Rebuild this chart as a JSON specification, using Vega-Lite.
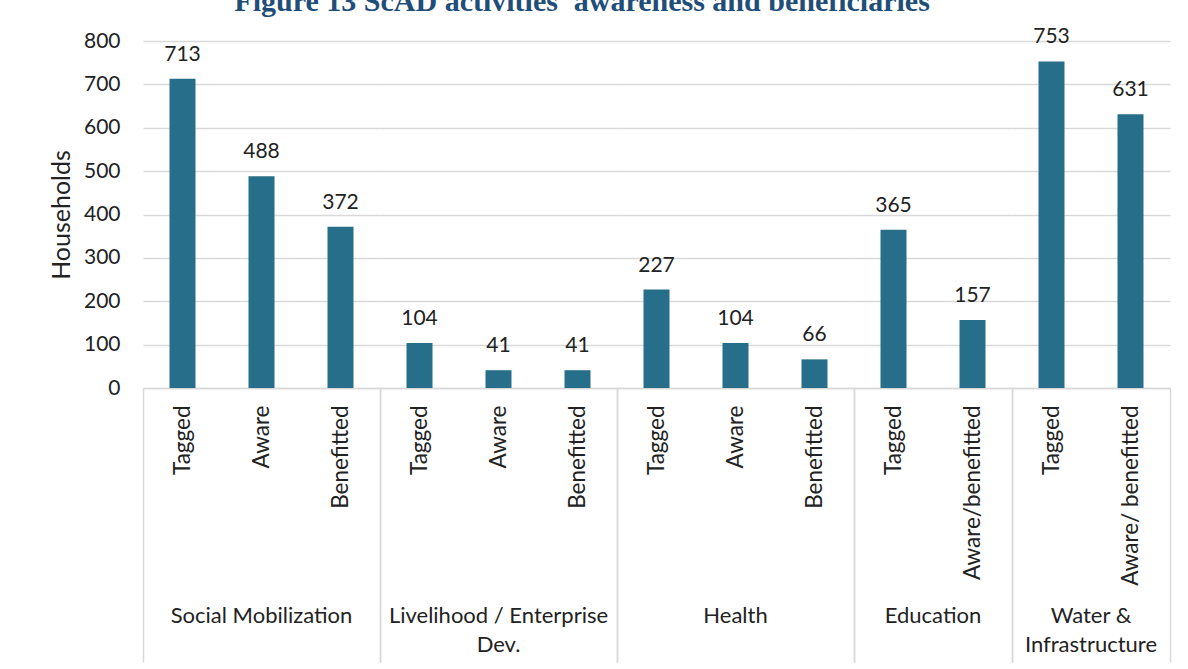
{
  "$schema": "https://vega.github.io/schema/vega-lite/v6.json",
  "padding": {"left": 49, "top": -13, "right": 10, "bottom": 0},
  "title": {
    "text": "Figure 13 ScAD activities' awareness and beneficiaries",
    "font": "Liberation Serif",
    "fontSize": 30,
    "fontWeight": "bold",
    "color": "#1f4e79",
    "anchor": "middle",
    "dx": -28,
    "offset": 9
  },
  "config": {
    "view": {"stroke": null},
    "font": "Lato"
  },
  "data": {
    "values": [
      {"group": "Social Mobilization", "status": "Tagged", "households": 713},
      {"group": "Social Mobilization", "status": "Aware", "households": 488},
      {"group": "Social Mobilization", "status": "Benefitted", "households": 372},
      {"group": "Livelihood / Enterprise Dev.", "status": "Tagged", "households": 104},
      {"group": "Livelihood / Enterprise Dev.", "status": "Aware", "households": 41},
      {"group": "Livelihood / Enterprise Dev.", "status": "Benefitted", "households": 41},
      {"group": "Health", "status": "Tagged", "households": 227},
      {"group": "Health", "status": "Aware", "households": 104},
      {"group": "Health", "status": "Benefitted", "households": 66},
      {"group": "Education", "status": "Tagged", "households": 365},
      {"group": "Education", "status": "Aware/benefitted", "households": 157},
      {"group": "Water & Infrastructure", "status": "Tagged", "households": 753},
      {"group": "Water & Infrastructure", "status": "Aware/ benefitted", "households": 631}
    ]
  },
  "facet": {
    "column": {
      "field": "group",
      "type": "nominal",
      "sort": ["Social Mobilization", "Livelihood / Enterprise Dev.", "Health", "Education", "Water & Infrastructure"],
      "header": {
        "title": null,
        "labelOrient": "bottom",
        "labelFont": "Lato",
        "labelFontSize": 22,
        "labelColor": "#222222",
        "labelBaseline": "top",
        "labelPadding": -57,
        "labelLineHeight": 29,
        "labelLimit": 300,
        "labelExpr": "indexof(datum.label, 'Livelihood') == 0 ? ['Livelihood / Enterprise', 'Dev.'] : indexof(datum.label, 'Water') == 0 ? ['Water &', 'Infrastructure'] : datum.label"
      }
    }
  },
  "spacing": -12,
  "resolve": {"scale": {"x": "independent"}},
  "spec": {
    "width": {"step": 79},
    "height": 347,
    "encoding": {
      "x": {
        "field": "status",
        "type": "nominal",
        "sort": null,
        "scale": {"paddingInner": 0, "paddingOuter": 0},
        "axis": {
          "title": null,
          "labelAngle": -90,
          "labelFont": "Lato",
          "labelFontSize": 22.5,
          "labelColor": "#222222",
          "labelLimit": 400,
          "tickBand": "extent",
          "tickSize": 274,
          "tickWidth": 1.5,
          "tickColor": "#d9d9d9",
          "tickOpacity": {"condition": {"test": "datum.value != 'Tagged' && datum.value != 'Aware'", "value": 1}, "value": 0},
          "labelPadding": -257,
          "domainColor": "#d9d9d9",
          "domainWidth": 1.5
        }
      },
      "y": {
        "field": "households",
        "type": "quantitative",
        "scale": {"domain": [0, 800]},
        "axis": {
          "title": "Households",
          "titleFont": "Lato",
          "titleFontSize": 25,
          "titleFontWeight": "normal",
          "titleColor": "#222222",
          "titlePadding": 9,
          "values": [0, 100, 200, 300, 400, 500, 600, 700, 800],
          "labelFont": "Lato",
          "labelFontSize": 21,
          "labelColor": "#222222",
          "labelPadding": 12,
          "domain": false,
          "ticks": false,
          "grid": true,
          "gridColor": "#d9d9d9",
          "gridWidth": 1.5
        }
      }
    },
    "layer": [
      {"mark": {"type": "bar", "width": 26, "color": "#276e8a"}},
      {
        "mark": {"type": "text", "baseline": "alphabetic", "dy": -18, "fontSize": 21, "font": "Lato", "color": "#222222"},
        "encoding": {"text": {"field": "households", "type": "quantitative"}}
      }
    ]
  }
}
